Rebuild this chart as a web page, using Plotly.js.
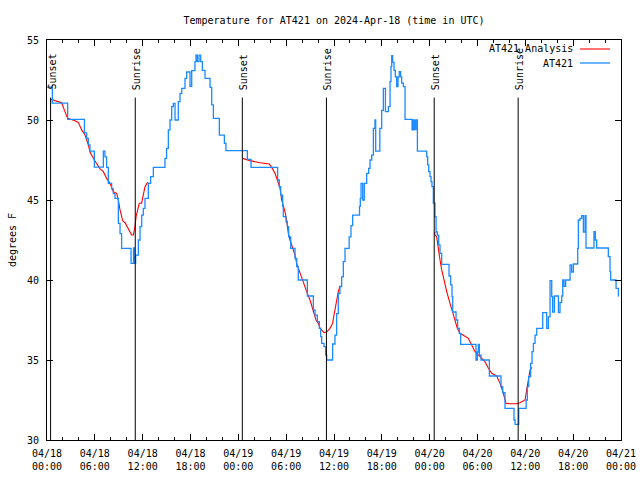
<!DOCTYPE html>
<html>
<head>
<meta charset="utf-8">
<script src="https://cdn.plot.ly/plotly-3.0.1.min.js"></script>
<style>html,body{margin:0;padding:0;background:#fff;}#chart{width:640px;height:480px;}</style>
</head>
<body>
<div id="chart"></div>
<script>
// Observations AT421: hours since 2024-04-18 00:00 UTC, degrees F
const obsHours = [0,0.67,2.59,4.7,4.98,5.19,5.39,5.94,6.94,7.07,7.27,7.48,7.69,8.11,8.32,8.53,8.95,9.16,9.36,10.54,10.85,10.95,11.12,11.46,11.67,11.88,12.08,12.29,12.71,13.0,13.34,14.8,15.0,15.22,15.43,15.64,15.85,16.06,16.47,16.68,16.9,17.31,17.52,17.94,18.15,18.56,18.69,18.86,19.07,19.28,19.49,19.82,20.45,20.66,20.87,21.62,22.25,22.45,25.13,25.59,28.93,29.14,29.31,29.56,29.64,29.98,30.15,30.31,30.57,31.11,31.32,31.52,32.66,33.41,33.62,33.91,34.16,34.33,34.45,34.75,34.96,35.08,35.83,36.12,36.33,36.54,36.75,36.96,37.17,37.38,37.9,38.13,38.34,39.2,39.3,39.39,39.6,39.8,40.1,40.35,40.52,40.73,40.94,41.14,41.23,41.75,41.98,42.19,42.45,42.82,43.03,43.15,43.24,43.36,43.53,43.69,43.86,44.03,44.19,44.36,44.49,44.7,44.91,45.79,45.95,46.12,46.29,46.46,47.63,47.75,47.88,48.04,48.17,48.29,48.46,48.67,48.8,48.96,49.13,49.3,49.51,50.43,50.64,50.8,50.89,51.31,51.51,51.72,51.89,53.81,53.98,54.1,54.23,54.44,55.49,56.95,57.16,57.45,58.58,58.71,59.17,60.1,60.25,60.42,60.67,60.84,61.01,61.22,61.43,62.18,62.68,62.89,63.1,63.31,63.43,63.64,64.15,64.35,64.56,64.69,64.86,65.06,65.61,65.81,66.02,66.57,66.65,66.86,67.07,67.28,67.49,67.61,68.61,68.78,68.95,70.41,70.62,70.71,71.38,71.67,71.72];
const obsTemp = [52.05,51.05,50.04,49.2,48.85,48.44,48.06,47.06,47.06,48.06,47.7,47.04,46.04,45.7,45.4,45.1,43.54,42.9,41.98,41.04,42.0,41.04,41.56,42.5,43.33,44.06,44.48,45.1,46.04,46.46,47.04,47.6,48.23,49.38,50.0,50.83,51.04,50.0,51.15,51.67,51.98,52.6,53.0,52.1,53.08,53.65,54.06,53.65,54.06,53.65,53.1,52.6,52.04,50.94,50.1,49.06,48.54,48.08,47.54,47.04,46.25,45.83,45.3,44.6,43.96,43.64,43.33,42.7,41.98,41.35,40.83,40.0,39.0,38.13,37.8,37.4,36.98,36.46,36.04,35.83,35.3,35.0,36.0,36.56,37.9,39.17,39.58,40.2,41.15,41.98,42.7,43.4,44.06,44.6,45.1,46.04,45.0,46.04,46.67,46.98,47.5,47.8,49.48,50.0,48.06,49.48,50.6,51.98,50.52,50.83,52.4,53.33,54.02,53.6,53.1,52.7,52.08,52.7,53.02,52.7,52.3,52.08,50.04,49.38,50.0,49.4,50.0,48.06,47.7,47.2,46.77,46.46,46.15,45.83,44.8,43.96,43.0,42.8,42.2,41.67,40.98,40.25,39.7,38.96,38.0,37.5,36.98,36.67,35.98,35.0,35.5,35.98,35.3,35.0,34.0,33.33,32.96,31.98,31.25,30.98,31.98,32.5,33.33,33.96,34.79,35.52,36.04,36.56,36.98,37.96,36.98,37.7,39.96,38.96,38.0,39.0,37.96,38.6,39.0,40.0,39.6,40.0,40.94,40.5,41.0,41.98,43.75,43.85,44.02,43.0,44.02,42.0,43.02,42.5,42.0,41.46,40.52,40.0,39.48,39.0,39.0];

// Analysis AT421 (null separates the three runs)
const anaHours = [0.5,1.0,1.84,2.17,2.59,3.51,3.93,4.35,4.77,5.19,5.39,5.94,6.65,7.07,7.48,7.9,8.32,8.74,8.95,9.16,9.5,9.79,10.2,10.62,10.83,11.04,11.17,11.46,11.58,11.87,12.08,12.29,12.59,12.7,null,
  24.54,25.46,26.72,27.89,28.18,28.6,28.89,29.23,29.44,29.64,29.85,30.06,30.27,30.48,30.82,31.11,31.32,31.74,32.15,32.57,32.99,33.41,33.74,34.04,34.25,34.75,35.08,35.5,35.83,36.0,36.25,36.54,36.75,null,
  48.62,48.67,48.88,49.09,49.3,49.51,49.72,49.93,50.14,50.55,50.97,51.18,51.47,51.81,52.44,52.85,53.27,53.69,54.32,54.94,55.36,55.78,56.41,56.83,57.24,57.58,58.08,58.92,59.33,59.75,59.96,60.17,60.38,60.59,60.84];
const anaTemp = [51.29,51.2,51.08,50.63,50.1,49.96,49.85,49.38,49.06,48.44,48.0,47.5,46.95,46.77,46.35,46.04,45.52,45.42,45.0,44.38,43.7,43.58,43.23,42.81,42.81,43.33,43.96,44.69,44.8,44.8,45.42,45.83,46.08,46.1,null,
  47.6,47.46,47.33,47.25,47.04,46.67,46.25,45.73,45.0,44.69,44.27,43.75,42.92,42.5,41.98,41.56,41.04,40.42,39.79,39.27,38.75,38.13,37.5,37.29,36.98,36.71,36.75,36.98,37.3,37.8,38.54,39.27,39.65,null,
  43.0,42.81,42.7,41.88,41.25,40.63,40.1,39.69,39.27,38.54,37.81,37.4,36.98,36.67,36.46,36.35,35.94,35.52,35.21,34.9,34.48,34.17,34.0,33.54,32.92,32.29,32.27,32.27,32.33,32.44,32.5,33.13,33.75,34.38,34.54];

// Sun events
const eventNames = ["Sunset","Sunrise","Sunset","Sunrise","Sunset","Sunrise"];
const eventHours = [0.45,11.07,24.5,35.05,48.57,59.1];

const seriesNames = ["AT421 Analysis","AT421"];
const seriesColors = ["#ff0000","#1a8aff"];

const baseMs = Date.UTC(2024,3,18,0,0,0);
function toDate(h){
  if (h === null) return null;
  return new Date(baseMs + h*3600000).toISOString().replace('T',' ').slice(0,19);
}

const font = {family: "DejaVu Sans Mono, monospace", size: 10, color: "#000"};

const traces = [
  {x: anaHours.map(toDate), y: anaTemp, type: "scatter", mode: "lines", name: seriesNames[0],
   line: {color: seriesColors[0], width: 1.1}, connectgaps: false},
  {x: obsHours.map(toDate), y: obsTemp, type: "scatter", mode: "lines", name: seriesNames[1],
   line: {color: seriesColors[1], width: 1.3, shape: "hv"}}
];

const shapes = [];
const annotations = [];
eventHours.forEach((h, i) => {
  shapes.push({type: "line", xref: "x", yref: "y", x0: toDate(h), x1: toDate(h), y0: 30, y1: 51.4,
    line: {color: "#000", width: 1}});
  annotations.push({xref: "x", yref: "y", x: toDate(h), y: 51.75, text: eventNames[i], textangle: -90,
    showarrow: false, xanchor: "center", yanchor: "bottom", xshift: 1, font: font});
});

// manual gnuplot-style key (text right, sample line to its right)
const keyRows = [{py: 49}, {py: 63}];
seriesNames.forEach((n, i) => {
  const yp = (440 - keyRows[i].py) / 400;
  annotations.push({xref: "paper", yref: "paper", x: (575 - 47) / 574, y: yp, text: n, showarrow: false,
    xanchor: "right", yanchor: "middle", font: font});
  shapes.push({type: "line", xref: "paper", yref: "paper", x0: (580 - 47) / 574, x1: (610 - 47) / 574,
    y0: yp, y1: yp, line: {color: seriesColors[i], width: i === 0 ? 1.1 : 1.3}});
});

const layout = {
  width: 640, height: 480,
  margin: {l: 47, r: 19, t: 40, b: 40, pad: 0},
  paper_bgcolor: "#fff", plot_bgcolor: "#fff",
  font: font,
  showlegend: false,
  title: {text: "Temperature for AT421 on 2024-Apr-18 (time in UTC)", font: font,
    x: 0.5, xref: "paper", xanchor: "center", y: 1 - 20/480, yanchor: "middle"},
  xaxis: {
    type: "date", range: [toDate(0), toDate(72)],
    tick0: toDate(0), dtick: 6*3600000, tickformat: "%m/%d<br>%H:%M",
    ticks: "inside", ticklen: 6, tickcolor: "#000", tickwidth: 1,
    minor: {dtick: 2*3600000, ticks: "inside", ticklen: 3, tickcolor: "#000", showgrid: false},
    showline: true, linecolor: "#000", linewidth: 1, mirror: "ticks",
    showgrid: false, zeroline: false, tickfont: font, ticklabelstandoff: 4
  },
  yaxis: {
    range: [30, 55], dtick: 5, tick0: 30,
    ticks: "inside", ticklen: 6, tickcolor: "#000", tickwidth: 1,
    showline: true, linecolor: "#000", linewidth: 1, mirror: "ticks",
    showgrid: false, zeroline: false, tickfont: font, ticklabelstandoff: 5,
    title: {text: "degrees F", font: font, standoff: 8}
  },
  shapes: shapes,
  annotations: annotations
};

Plotly.newPlot("chart", traces, layout, {displayModeBar: false, staticPlot: true});
</script>
</body>
</html>
